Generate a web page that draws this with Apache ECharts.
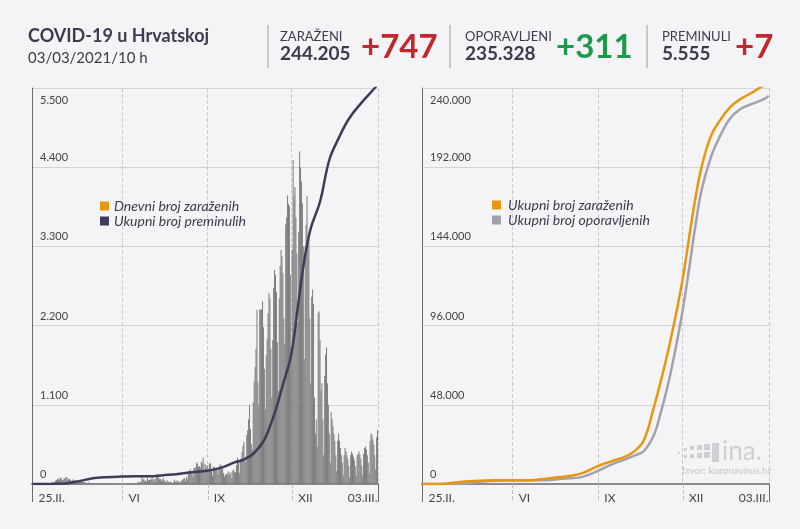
<!DOCTYPE html>
<html><head><meta charset="utf-8">
<script src="https://cdn.jsdelivr.net/npm/echarts@6.0.0/dist/echarts.min.js"></script>
<style>html,body{margin:0;padding:0;background:#f4f4f7;} #c{width:800px;height:529px;}</style>
</head><body><div id="c"></div>
<script>
// ---------- DATA ----------
// daily new cases, 25.02.2020 - 03.03.2021
const cases2020Feb = [1,2,0,2,0];
const cases2020Mar = [1,0,0,1,1,2,0,0,1,1, 2,5,7,5,11,7,16,24,23,23, 48,52,71,76,53,91,84,56,57,77, 77];
const cases2020Apr = [96,93,64,72,67,58,40,50,67,49, 46,57,37,27,21,41,40,32,25,30, 26,17,12,14,21,16,9,11,3,8];
const cases2020May = [10,7,8,5,4,6,5,3,3,3, 4,2,1,3,2,1,1,1,2,0, 0,1,0,0,0,0,0,0,1,0, 0];
const cases2020Jun = [0,0,1,0,0,0,1,0,0,1, 0,0,3,5,4,2,13,31,20,31, 25,96,66,67,41,52,32,88,52,57];
const cases2020Jul = [65,64,91,55,71,36,80,116,140,95, 67,71,38,62,85,51,30,25,54,36, 28,34,25,25,11,22,58,35,30,50, 43];
const cases2020Aug = [22,35,30,50,60,78,79,36,102,66, 180,180,208,179,160,104,219,218,232,300, 280,240,246,224,308,284,369,200,280,262, 210];
const cases2020Sep = [259,198,295,281,205,117,240,239,204,211, 191,132,217,266,268,226,210,150,100,133, 140,133,173,155,127,163,80,186,200,163];
const cases2020Oct = [163,260,363,327,150,316,363,447,534,587, 377,298,680,748,900,1100,764,552,475,1131, 1424,1626,1876,2421,1424,1100,2421,2421,2424,2539, 2176];
const cases2020Nov = [1601,1034,1789,2010,2370,2648,2580,1880,1200,2000, 2722,2972,2907,2665,1968,1300,2580,3032,3250,3164, 2927,2300,1950,3603,3700,4009,3888,3859,2900,1917];
const cases2020Dec = [3254,4500,4000,4125,3700,3200,2243,3500,4620,4400, 4200,3900,3300,1735,3300,3600,4000,3400,3400,2300, 1400,2600,2700,2500,1200,700,900,519,2380,2400, 2000];
const cases2021Jan = [1300,1400,900,400,1500,1800,1900,1400,1100,700, 300,1000,900,800,700,600,400,180,600,700, 600,500,400,300,120,400,500,450,400,350, 250];
const cases2021Feb = [90,400,450,420,380,330,250,110,400,420, 450,410,350,250,120,420,500,520,480,400, 300,150,600,700,680,620,550,400];
const cases2021Mar = [200,650,747];
const dailyCases = [].concat(cases2020Feb, cases2020Mar, cases2020Apr, cases2020May, cases2020Jun,
  cases2020Jul, cases2020Aug, cases2020Sep, cases2020Oct, cases2020Nov, cases2020Dec,
  cases2021Jan, cases2021Feb, cases2021Mar);

// cumulative series, sampled
const lineDates = ['2020-02-25','2020-03-15','2020-03-31','2020-04-15','2020-04-30','2020-05-15','2020-05-31',
  '2020-06-15','2020-06-30','2020-07-15','2020-07-31','2020-08-15','2020-08-31','2020-09-15','2020-09-30',
  '2020-10-10','2020-10-20','2020-10-31','2020-11-07','2020-11-14','2020-11-21','2020-11-30','2020-12-07',
  '2020-12-14','2020-12-21','2020-12-31','2021-01-10','2021-01-20','2021-01-31','2021-02-14','2021-02-28','2021-03-03'];
const totalDeaths = [0,0,6,39,79,95,103,107,107,122,139,162,183,224,300,
  340,420,594,800,1060,1380,1800,2450,3100,3550,3920,4500,4800,5070,5300,5500,5555];
const totalCases = [1,49,867,1704,2076,2226,2246,2262,2831,3775,4880,6571,10725,13749,16593,
  19900,26500,47000,62000,78000,96000,122000,147000,172000,192000,210837,220500,228000,233000,237500,242500,244205];
const totalRecovered = [0,0,67,600,1500,1950,2100,2150,2200,2600,3500,4300,7800,11800,14900,
  17300,20000,30000,43000,58000,76000,103000,128000,155000,178000,198000,211000,221000,227000,230500,233900,235328];

// axis labels
const tickLabels = {'2020-02-25':'25.II.','2020-06-01':'VI','2020-09-01':'IX','2020-12-01':'XII','2021-03-03':'03.III.'};
const monthMarks = ['2020-06-01','2020-09-01','2020-12-01'];
const leftLegend = ['Dnevni broj zaraženih','Ukupni broj preminulih'];
const rightLegend = ['Ukupni broj zaraženih','Ukupni broj oporavljenih'];

// categories (days)
const dates = [];
{
  const t0 = Date.UTC(2020,1,25);
  for (let i = 0; i < dailyCases.length; i++) dates.push(new Date(t0 + i*86400000).toISOString().slice(0,10));
}

// ---------- CHART ----------
const FONT = 'Lato, "Noto Sans", sans-serif';
const TXT = '#3b3b4d';
const fmt = v => String(v).replace(/\B(?=(\d{3})+(?!\d))/g, '.');
const firstDate = dates[0], lastDate = dates[dates.length-1];

function xAxesFor(g) {
  return [{
    type: 'category', gridIndex: g, data: dates, boundaryGap: true, position: 'bottom',
    axisLine: {lineStyle: {color: '#8a8a8e', width: 2}},
    axisTick: {show: true, alignWithLabel: true, length: 18, interval: (i, v) => monthMarks.includes(v),
      lineStyle: {color: '#bdbdc2', type: 'dashed'}},
    axisLabel: {interval: (i, v) => v in tickLabels && v !== lastDate, formatter: v => tickLabels[v] || '',
      align: 'left', padding: [0,0,0,6], margin: 8, color: '#444', fontSize: 12, fontFamily: FONT},
    splitLine: {show: true, interval: (i, v) => monthMarks.includes(v),
      lineStyle: {color: '#c9c9ce', type: 'dashed', width: 1}}
  }, {
    type: 'category', gridIndex: g, data: dates, boundaryGap: true, position: 'bottom',
    axisLine: {show: false},
    axisTick: {show: true, alignWithLabel: false, length: 18, interval: (i, v) => v === firstDate,
      lineStyle: {color: '#6a6a70', width: 1}},
    axisLabel: {interval: (i, v) => v === lastDate, formatter: v => tickLabels[v] || '',
      align: 'right', margin: 8, color: '#444', fontSize: 12, fontFamily: FONT},
    splitLine: {show: false}
  }];
}
function yAxesFor(g, max, interval) {
  return [{
    type: 'value', gridIndex: g, min: 0, max: max, interval: interval, position: 'left',
    axisLine: {show: true, lineStyle: {color: '#6a6a70', width: 1}},
    axisTick: {show: false},
    axisLabel: {inside: true, showMaxLabel: false, margin: 8, verticalAlign: 'bottom', padding: [0,0,4,0],
      formatter: fmt, color: '#444', fontSize: 11, fontFamily: FONT},
    splitLine: {show: true, lineStyle: {color: '#d3d3d8', width: 1}}
  }, {
    type: 'value', gridIndex: g, min: 0, max: max, interval: max, position: 'left',
    axisLine: {show: false, onZero: false}, axisTick: {show: false}, splitLine: {show: false},
    axisLabel: {inside: true, showMinLabel: false, margin: 8, verticalAlign: 'top', padding: [7,0,0,0],
      formatter: fmt, color: '#444', fontSize: 11, fontFamily: FONT}
  }];
}
const pairs = vals => lineDates.map((d, i) => [d, vals[i]]);

const chart = echarts.init(document.getElementById('c'), null, {renderer: 'canvas'});
const hdr = (x, y, text, size, weight, color) => ({type: 'text', x: x, y: y, silent: true,
  style: {text: text, fill: color, fontSize: size, fontWeight: weight, fontFamily: FONT, verticalAlign: 'middle', align: 'left'}});
const sep = x => ({type: 'line', silent: true, shape: {x1: x, y1: 25, x2: x, y2: 68}, style: {stroke: '#9a9aa0', lineWidth: 1}});
const sq = (x, y, s) => ({type: 'rect', silent: true, shape: {x: x, y: y, width: s, height: s}, style: {fill: '#cfcfd4'}});

chart.setOption({
  animation: false,
  backgroundColor: '#f4f4f7',
  textStyle: {fontFamily: FONT},
  grid: [
    {left: 32, right: 422, top: 88, bottom: 45, containLabel: false},
    {left: 422, right: 31, top: 88, bottom: 45, containLabel: false}
  ],
  xAxis: [].concat(xAxesFor(0), xAxesFor(1)),
  yAxis: [].concat(yAxesFor(0, 5500, 1100), yAxesFor(1, 240000, 48000)),
  legend: [{
    orient: 'vertical', left: 95, top: 194, itemWidth: 9, itemHeight: 9, itemGap: 1, icon: 'rect',
    textStyle: {fontStyle: 'italic', fontSize: 14, color: TXT, fontFamily: FONT, padding: [0,0,0,0]},
    data: [{name: leftLegend[0], itemStyle: {color: '#e8960f'}}, {name: leftLegend[1]}]
  }, {
    orient: 'vertical', left: 487, top: 193, itemWidth: 9, itemHeight: 9, itemGap: 1, icon: 'rect',
    textStyle: {fontStyle: 'italic', fontSize: 14, color: TXT, fontFamily: FONT, padding: [0,0,0,2]},
    data: [{name: rightLegend[0]}, {name: rightLegend[1]}]
  }],
  series: [{
    name: leftLegend[0], type: 'bar', xAxisIndex: 0, yAxisIndex: 0, data: dailyCases,
    barWidth: '75%', itemStyle: {color: '#7c7c7e'}, z: 2
  }, {
    name: leftLegend[1], type: 'line', xAxisIndex: 0, yAxisIndex: 0, data: pairs(totalDeaths),
    smooth: 0.4, showSymbol: false, symbol: 'none', color: '#3e3c58',
    itemStyle: {color: '#3e3c58'}, lineStyle: {color: '#3e3c58', width: 2.5}, z: 5
  }, {
    name: rightLegend[1], type: 'line', xAxisIndex: 2, yAxisIndex: 2, data: pairs(totalRecovered),
    smooth: 0.4, showSymbol: false, symbol: 'none', color: '#a3a1ad',
    itemStyle: {color: '#a3a1ad'}, lineStyle: {color: '#a3a1ad', width: 2.5}, z: 4
  }, {
    name: rightLegend[0], type: 'line', xAxisIndex: 2, yAxisIndex: 2, data: pairs(totalCases),
    smooth: 0.4, showSymbol: false, symbol: 'none', color: '#e8960f',
    itemStyle: {color: '#e8960f'}, lineStyle: {color: '#e8960f', width: 2.5}, z: 5
  }],
  graphic: [
    hdr(28, 36, 'COVID-19 u Hrvatskoj', 18, 'bold', TXT),
    hdr(28, 58, '03/03/2021/10 h', 15, 'normal', TXT),
    sep(268), sep(450), sep(647),
    hdr(280, 37, 'ZARAŽENI', 13, 'normal', TXT),
    hdr(280, 54, '244.205', 19, 'bold', TXT),
    hdr(361, 47, '+747', 33, 'bold', '#c1272d'),
    hdr(465, 37, 'OPORAVLJENI', 13, 'normal', TXT),
    hdr(465, 54, '235.328', 19, 'bold', TXT),
    hdr(556, 47, '+311', 33, 'bold', '#1a9a4a'),
    hdr(662, 37, 'PREMINULI', 13, 'normal', TXT),
    hdr(662, 54, '5.555', 19, 'bold', TXT),
    hdr(735, 47, '+7', 33, 'bold', '#c1272d'),
    sq(678, 452, 2), sq(684, 448, 3), sq(684, 455, 3), sq(690, 446, 4), sq(690, 454, 4),
    sq(697, 445, 5), sq(697, 453, 5), sq(704, 444, 6), sq(704, 452, 6),
    {type: 'rect', silent: true, shape: {x: 712, y: 443, width: 7, height: 19}, style: {fill: '#cfcfd4'}},
    hdr(722, 452, 'ina.', 26, 'normal', '#cfcfd4'),
    hdr(682, 471, 'Izvor: koronavirus.hr', 10, 'normal', '#c4c4ca')
  ]
});
</script></body></html>
